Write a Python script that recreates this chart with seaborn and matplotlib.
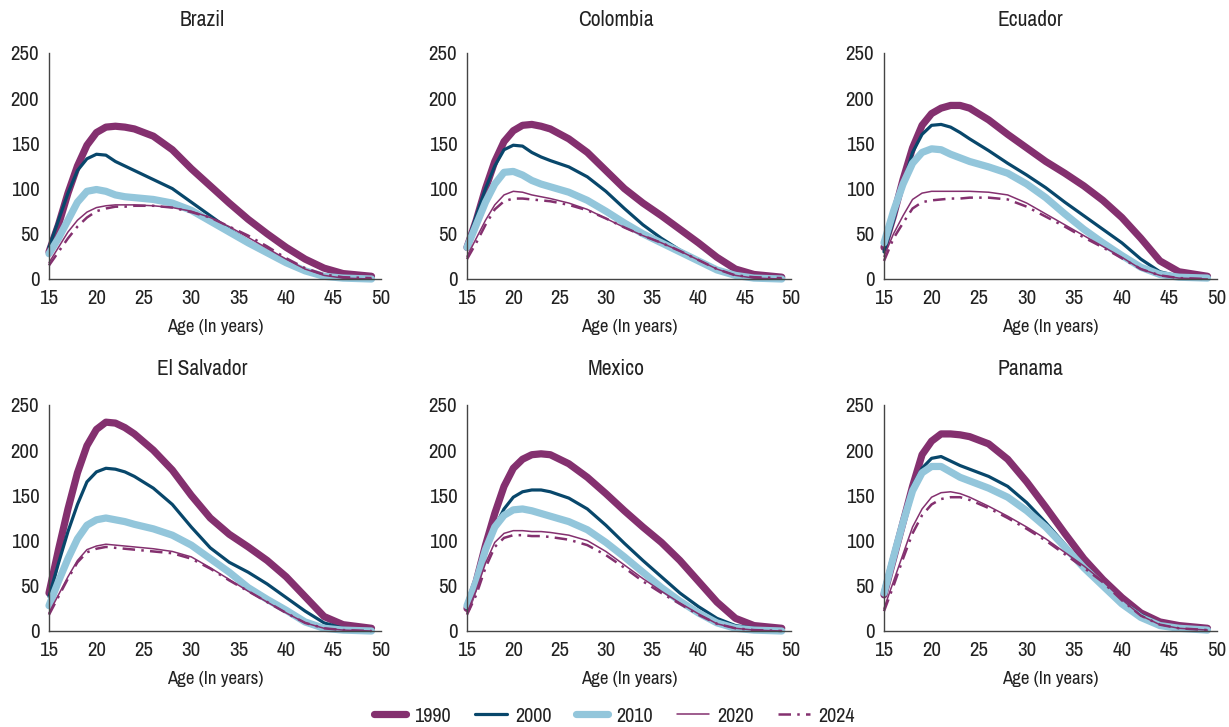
import numpy as np
import pandas as pd
import seaborn as sns
import matplotlib.pyplot as plt
from matplotlib.lines import Line2D

sns.set_style("white")
plt.rcParams['font.family'] = ['Archivo Narrow', 'DejaVu Sans']

ages = [15, 16, 17, 18, 19, 20, 21, 22, 23, 24, 26, 28, 30, 32, 34, 36, 38, 40, 42, 44, 46, 49]
years = ['1990', '2000', '2010', '2020', '2024']
countries = ['Brazil', 'Colombia', 'Ecuador', 'El Salvador', 'Mexico', 'Panama']

# age-specific fertility rates (births per 1,000 women)
brazil_1990 = [30, 60, 95, 125, 148, 162, 168, 169, 168, 166, 158, 143, 122, 103, 84, 66, 50, 35, 22, 12, 6, 3]
brazil_2000 = [35, 65, 95, 120, 133, 138, 137, 130, 125, 120, 110, 100, 85, 70, 55, 42, 30, 20, 10, 4, 2, 1]
brazil_2010 = [28, 45, 65, 85, 97, 99, 97, 93, 91, 90, 88, 84, 76, 64, 52, 40, 29, 18, 9, 3, 1, 0]
brazil_2020 = [18, 35, 52, 65, 74, 79, 81, 82, 82, 82, 81, 79, 75, 68, 58, 46, 34, 22, 11, 4, 1, 0]
brazil_2024 = [15, 30, 45, 58, 68, 75, 78, 80, 80, 81, 81, 79, 74, 68, 58, 48, 36, 23, 12, 5, 2, 1]

colombia_1990 = [35, 65, 100, 130, 152, 164, 170, 171, 169, 166, 155, 140, 120, 100, 84, 70, 55, 40, 24, 11, 5, 2]
colombia_2000 = [38, 70, 100, 125, 143, 148, 147, 140, 135, 131, 124, 113, 97, 78, 60, 45, 32, 20, 10, 4, 2, 1]
colombia_2010 = [35, 60, 85, 105, 118, 119, 115, 109, 105, 102, 96, 87, 75, 62, 50, 40, 30, 20, 10, 4, 1, 0]
colombia_2020 = [25, 45, 65, 82, 93, 97, 96, 93, 91, 89, 84, 77, 67, 57, 48, 40, 31, 21, 11, 4, 1, 0]
colombia_2024 = [22, 40, 60, 77, 86, 89, 89, 88, 87, 86, 82, 76, 67, 57, 48, 40, 31, 21, 11, 4, 2, 1]

ecuador_1990 = [35, 70, 110, 145, 170, 183, 189, 192, 192, 189, 176, 160, 145, 130, 117, 103, 87, 68, 45, 20, 8, 3]
ecuador_2000 = [30, 65, 105, 140, 160, 170, 171, 168, 162, 155, 142, 128, 115, 101, 85, 70, 55, 40, 22, 8, 3, 1]
ecuador_2010 = [40, 75, 105, 128, 140, 144, 143, 138, 134, 130, 124, 117, 105, 90, 72, 55, 40, 26, 13, 5, 2, 1]
ecuador_2020 = [25, 50, 70, 88, 95, 97, 97, 97, 97, 97, 96, 93, 84, 72, 60, 48, 36, 24, 11, 4, 1, 0]
ecuador_2024 = [20, 45, 62, 78, 85, 87, 88, 89, 89, 90, 90, 88, 80, 69, 58, 46, 35, 23, 11, 4, 1, 0]

salvador_1990 = [42, 90, 135, 175, 205, 223, 231, 230, 225, 218, 200, 178, 150, 125, 107, 93, 78, 60, 38, 16, 7, 3]
salvador_2000 = [38, 75, 110, 140, 165, 176, 180, 179, 176, 171, 158, 140, 115, 92, 76, 65, 52, 37, 22, 9, 3, 1]
salvador_2010 = [28, 55, 80, 102, 117, 123, 125, 123, 121, 118, 113, 106, 95, 80, 65, 48, 35, 23, 10, 3, 1, 0]
salvador_2020 = [20, 40, 60, 78, 90, 94, 96, 95, 94, 93, 91, 88, 82, 70, 57, 44, 32, 20, 9, 3, 1, 0]
salvador_2024 = [18, 38, 58, 76, 87, 91, 93, 92, 91, 90, 88, 86, 80, 69, 56, 44, 32, 20, 9, 3, 1, 0]

mexico_1990 = [25, 55, 95, 130, 160, 180, 190, 195, 196, 195, 185, 170, 152, 133, 115, 98, 78, 55, 32, 14, 6, 3]
mexico_2000 = [25, 50, 85, 115, 135, 148, 154, 156, 156, 154, 147, 135, 117, 97, 78, 60, 42, 27, 14, 6, 3, 1]
mexico_2010 = [28, 55, 90, 115, 128, 134, 135, 133, 130, 127, 121, 112, 98, 82, 65, 48, 33, 20, 9, 3, 1, 0]
mexico_2020 = [20, 45, 75, 98, 108, 111, 111, 110, 110, 109, 106, 100, 88, 73, 58, 44, 31, 19, 8, 3, 1, 0]
mexico_2024 = [18, 40, 70, 93, 103, 106, 106, 105, 105, 104, 101, 95, 84, 70, 55, 42, 30, 18, 8, 3, 1, 0]

panama_1990 = [40, 80, 120, 160, 195, 210, 218, 218, 217, 215, 207, 190, 165, 137, 108, 80, 57, 37, 20, 10, 6, 3]
panama_2000 = [42, 85, 125, 160, 180, 191, 193, 188, 183, 179, 171, 160, 142, 120, 96, 72, 52, 33, 18, 8, 4, 2]
panama_2010 = [42, 82, 120, 155, 175, 182, 182, 176, 170, 166, 158, 148, 133, 115, 93, 70, 50, 30, 15, 6, 3, 1]
panama_2020 = [25, 55, 85, 115, 135, 148, 153, 154, 152, 148, 138, 127, 115, 102, 87, 72, 55, 35, 17, 7, 3, 1]
panama_2024 = [22, 50, 80, 108, 128, 140, 146, 148, 148, 145, 136, 125, 113, 100, 85, 70, 54, 34, 17, 7, 3, 1]

series = {
    'Brazil': [brazil_1990, brazil_2000, brazil_2010, brazil_2020, brazil_2024],
    'Colombia': [colombia_1990, colombia_2000, colombia_2010, colombia_2020, colombia_2024],
    'Ecuador': [ecuador_1990, ecuador_2000, ecuador_2010, ecuador_2020, ecuador_2024],
    'El Salvador': [salvador_1990, salvador_2000, salvador_2010, salvador_2020, salvador_2024],
    'Mexico': [mexico_1990, mexico_2000, mexico_2010, mexico_2020, mexico_2024],
    'Panama': [panama_1990, panama_2000, panama_2010, panama_2020, panama_2024],
}

rows = []
for c in countries:
    for y, vals in zip(years, series[c]):
        for a, v in zip(ages, vals):
            rows.append((c, y, a, v))
df = pd.DataFrame(rows, columns=['country', 'year', 'age', 'rate'])

purple = '#84306F'
styles = {
    '1990': dict(color=purple, lw=5.2, ls='-'),
    '2000': dict(color='#08476B', lw=2.3, ls='-'),
    '2010': dict(color='#93C6DB', lw=5.2, ls='-'),
    '2020': dict(color=purple, lw=1.1, ls='-'),
    '2024': dict(color=purple, lw=1.8, ls=(0, (5, 2.5, 1, 2.5))),
}

W, H = 1229, 727
fig = plt.figure(figsize=(W / 100, H / 100), dpi=100)

lefts = [49, 467, 884]
widths = [332, 324, 333]
bottoms = [279, 631]  # pixel y of zero line
title_x = [202, 616, 1030]
title_y = [20, 369]

text_col = '#222222'
for i, c in enumerate(countries):
    r, k = divmod(i, 3)
    ax = fig.add_axes([lefts[k] / W, (H - bottoms[r]) / H, widths[k] / W, 226 / H])
    sub = df[df['country'] == c]
    for y in years:
        st = styles[y]
        d = sub[sub['year'] == y]
        sns.lineplot(data=d, x='age', y='rate', ax=ax, color=st['color'],
                     linewidth=st['lw'], linestyle=st['ls'], clip_on=False)
    ax.set_xlim(15, 50)
    ax.set_ylim(0, 250)
    ax.set_xticks(range(15, 51, 5))
    ax.set_yticks(range(0, 251, 50))
    for s in ['top', 'right']:
        ax.spines[s].set_visible(False)
    for s in ['left', 'bottom']:
        ax.spines[s].set_color('#444444')
        ax.spines[s].set_linewidth(1.0)
    ax.tick_params(axis='both', direction='out', length=5, width=1, color='#444444',
                   labelsize=15, labelcolor=text_col, pad=2)
    ax.set_xlabel('Age (In years)', fontsize=13.5, color=text_col, labelpad=8)
    ax.set_ylabel('')
    fig.text(title_x[k] / W, 1 - title_y[r] / H, c, ha='center', va='center',
             fontsize=15.5, color=text_col, fontweight='medium')

handles = [Line2D([0], [0], color=styles[y]['color'], lw=styles[y]['lw'],
                  ls=styles[y]['ls']) for y in years]
fig.legend(handles, years, loc='center', bbox_to_anchor=(0.5, 1 - 716 / H), ncol=5,
           frameon=False, fontsize=14.5, handlelength=1.6, columnspacing=1.2,
           handletextpad=0.4, labelcolor=text_col)

fig.savefig('out.png', dpi=100)
